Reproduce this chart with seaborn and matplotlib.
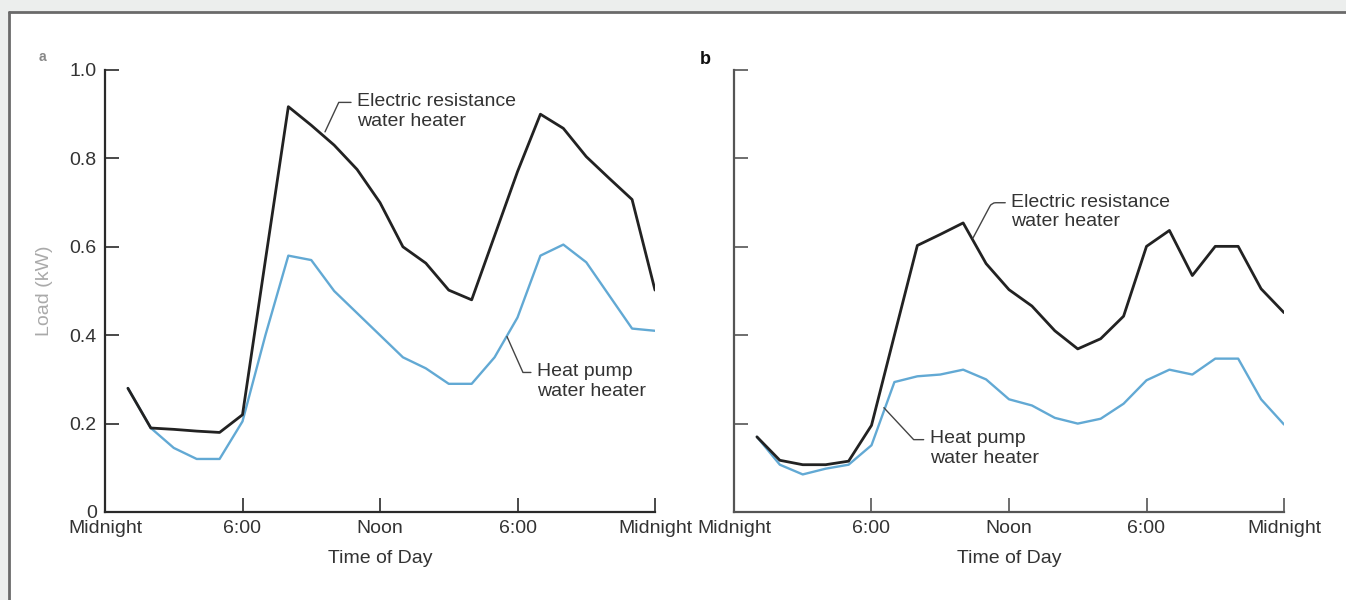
import numpy as np
import pandas as pd
import matplotlib
matplotlib.use("Agg")
import matplotlib.pyplot as plt
from matplotlib.patches import Rectangle
from matplotlib.lines import Line2D
import seaborn as sns

# hourly load (kW), hours 1..24
hours = list(range(1, 25))

# panel a
elec_a = [0.28, 0.19, 0.187, 0.183, 0.18, 0.22, 0.57, 0.917, 0.875, 0.83, 0.775, 0.70,
          0.60, 0.563, 0.502, 0.48, 0.625, 0.77, 0.90, 0.868, 0.804, 0.755, 0.707, 0.502]
hp_a = [0.28, 0.19, 0.145, 0.12, 0.12, 0.205, 0.40, 0.58, 0.57, 0.50, 0.45, 0.40,
        0.35, 0.325, 0.29, 0.29, 0.35, 0.44, 0.58, 0.605, 0.565, 0.49, 0.415, 0.41]

# panel b
elec_b = [0.17, 0.117, 0.107, 0.107, 0.115, 0.196, 0.40, 0.603, 0.628, 0.654, 0.562, 0.503,
          0.466, 0.41, 0.369, 0.392, 0.443, 0.601, 0.637, 0.535, 0.601, 0.601, 0.505, 0.451]
hp_b = [0.17, 0.107, 0.085, 0.098, 0.107, 0.151, 0.294, 0.307, 0.311, 0.322, 0.30, 0.255,
        0.241, 0.213, 0.20, 0.211, 0.245, 0.298, 0.322, 0.311, 0.347, 0.347, 0.255, 0.198]

x_ticks = [0, 6, 12, 18, 24]
x_labels = ["Midnight", "6:00", "Noon", "6:00", "Midnight"]
y_ticks = [0, 0.2, 0.4, 0.6, 0.8, 1.0]
y_labels = ["0", "0.2", "0.4", "0.6", "0.8", "1.0"]

ELEC_LABEL = "Electric resistance\nwater heater"
HP_LABEL = "Heat pump\nwater heater"

sns.set_style("white")
plt.rcParams["font.family"] = ["Liberation Sans", "DejaVu Sans"]
plt.rcParams["font.size"] = 14

TXT = "#333333"
BLUE = "#62a9d4"
BLACK = "#222222"

W, H = 1346, 600
fig = plt.figure(figsize=(W / 100, H / 100), dpi=100)
fig.patch.set_facecolor("#eceeed")

# white page with a thin frame top and left
fig.add_artist(Rectangle((9 / W, 0), 1, 1 - 12 / H, transform=fig.transFigure,
                         facecolor="white", edgecolor="none", zorder=-5))
fig.add_artist(Line2D([9 / W, 1], [1 - 12 / H] * 2, transform=fig.transFigure,
                      color="#6a6a6a", lw=2, zorder=-4))
fig.add_artist(Line2D([9 / W] * 2, [0, 1 - 12 / H], transform=fig.transFigure,
                      color="#6a6a6a", lw=2, zorder=-4))


def make_axes(left_px, spine_color):
    ax = fig.add_axes([left_px / W, (H - 512) / H, 550 / W, 442 / H])
    ax.set_facecolor("none")
    for s in ["top", "right"]:
        ax.spines[s].set_visible(False)
    for s in ["left", "bottom"]:
        ax.spines[s].set_color(spine_color)
        ax.spines[s].set_linewidth(1.6)
    ax.set_xlim(0, 24)
    ax.set_ylim(0, 1.0)
    ax.tick_params(bottom=True, left=True, direction="in", length=10, width=1.2,
                   color=spine_color, labelcolor=TXT, labelsize=14, pad=6)
    ax.set_xticks(x_ticks)
    ax.set_xticklabels(x_labels)
    return ax


def draw_lines(ax, elec, hp):
    df = pd.DataFrame({"hour": hours, "elec": elec, "hp": hp})
    sns.lineplot(data=df, x="hour", y="hp", ax=ax, color=BLUE, lw=1.7, zorder=2)
    sns.lineplot(data=df, x="hour", y="elec", ax=ax, color=BLACK, lw=2.0, zorder=3)
    ax.set_xlabel("Time of Day", color=TXT, fontsize=14, labelpad=9)


def leader(ax, label, xy, xytext, angle_b, rad=0):
    ax.annotate(label, xy=xy, xytext=xytext, ha="left", va="center",
                color=TXT, fontsize=14, linespacing=1.2,
                arrowprops=dict(arrowstyle="-", color="#444444", lw=1.0,
                                shrinkA=2, shrinkB=0, relpos=(0, 0.75),
                                connectionstyle=f"angle,angleA=0,angleB={angle_b},rad={rad}"))


# panel a
ax1 = make_axes(105, "#2a2a2a")
draw_lines(ax1, elec_a, hp_a)
ax1.set_yticks(y_ticks)
ax1.set_yticklabels(y_labels)
ax1.set_ylabel("Load (kW)", color="#aaaaaa", fontsize=14, labelpad=12)
leader(ax1, ELEC_LABEL, (9.6, 0.86), (11.0, 0.906), 65)
leader(ax1, HP_LABEL, (17.54, 0.397), (18.85, 0.295), -66)

# panel b
ax2 = make_axes(734, "#555555")
draw_lines(ax2, elec_b, hp_b)
ax2.set_ylabel("")
ax2.set_yticks(y_ticks[1:])
ax2.set_yticklabels([])
leader(ax2, ELEC_LABEL, (10.43, 0.62), (12.1, 0.679), 62, rad=4)
leader(ax2, HP_LABEL, (6.54, 0.236), (8.54, 0.143), -47)

# panel letters
fig.text(42 / W, 1 - 57 / H, "a", color="#888888", fontsize=10, fontweight="bold",
         ha="center", va="center")
fig.text(705 / W, 1 - 60 / H, "b", color="#111111", fontsize=13, fontweight="bold",
         ha="center", va="center")

fig.savefig("out.png", dpi=100, facecolor=fig.get_facecolor())
